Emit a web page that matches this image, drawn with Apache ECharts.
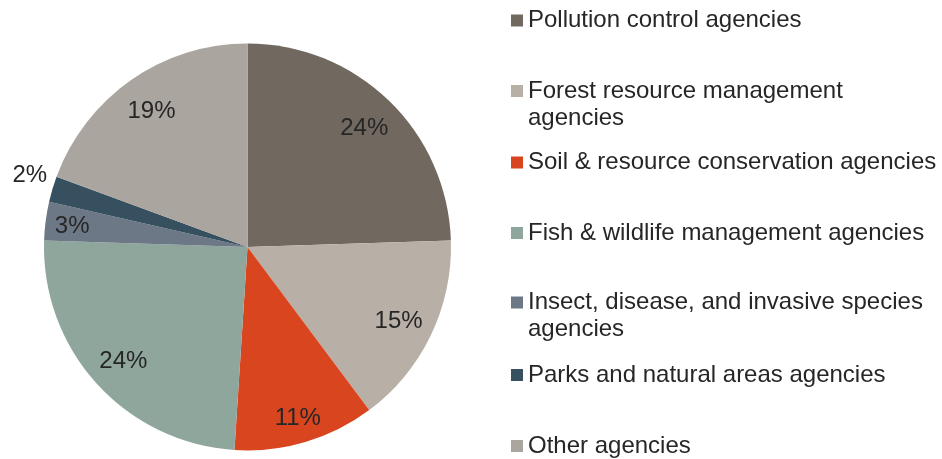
<!DOCTYPE html>
<html>
<head>
<meta charset="utf-8">
<script src="https://cdn.jsdelivr.net/npm/echarts@6/dist/echarts.min.js"></script>
<style>
html,body{margin:0;padding:0;background:#ffffff;}
#chart{width:942px;height:459px;}
</style>
</head>
<body>
<div id="chart"></div>
<script>
// ---- data ----
const categories = [
  'Pollution control agencies',
  'Forest resource management agencies',
  'Soil & resource conservation agencies',
  'Fish & wildlife management agencies',
  'Insect, disease, and invasive species agencies',
  'Parks and natural areas agencies',
  'Other agencies'
];
const legendLines = [
  ['Pollution control agencies'],
  ['Forest resource management', 'agencies'],
  ['Soil & resource conservation agencies'],
  ['Fish & wildlife management agencies'],
  ['Insect, disease, and invasive species', 'agencies'],
  ['Parks and natural areas agencies'],
  ['Other agencies']
];
const percents = [24, 15, 11, 24, 3, 2, 19];

// ---- style ----
const colors = ['#716860', '#b8afa6', '#d9451f', '#8ea69c', '#6d7886', '#36505f', '#aaa59f'];
const FONT = "'Liberation Sans', Arial, Helvetica, sans-serif";
const TEXT = '#262626';
const center = [247.5, 247];
const R = 203.5;
const legendLineCenters = [20.5, 91, 162.5, 233, 302.5, 375, 446];
const LH = 27;
const tierA = [0, 1, 3, 6];   // labels nearer the middle ring
const tierB = [2, 4];         // labels slightly further out
const outsideIdx = 5;

const labelBase = {fontSize: 24, fontFamily: FONT, color: TEXT};

const mainData = categories.map((n, i) => ({
  name: n, value: percents[i],
  itemStyle: {color: colors[i]},
  label: i === outsideIdx
    ? Object.assign({show: true, position: 'outside', distanceToLabelLine: 0, formatter: '{c}%'}, labelBase)
    : {show: false},
  labelLine: {show: false, length: 5.5, length2: 0}
}));

function overlay(tier, r0) {
  return {
    type: 'pie', silent: true, center: center, radius: [r0, R],
    startAngle: 90, clockwise: true, animation: false,
    emphasis: {disabled: true},
    itemStyle: {color: 'rgba(0,0,0,0)', borderWidth: 0},
    labelLine: {show: false},
    labelLayout: {dy: 2},
    data: categories.map((n, i) => ({
      name: n, value: percents[i],
      label: tier.indexOf(i) >= 0
        ? Object.assign({show: true, position: 'inside', formatter: '{c}%'}, labelBase)
        : {show: false}
    }))
  };
}

const legends = categories.map((n, i) => {
  const lines = legendLines[i];
  const extra = (lines.length - 1) * LH;   // pad on top so the icon sits on the first line
  return {
    data: [n], left: 511,
    top: legendLineCenters[i] - LH / 2 - extra,
    orient: 'vertical', padding: 0, itemGap: 0,
    itemWidth: 12, itemHeight: 12, icon: 'rect',
    selectedMode: false,
    formatter: () => lines.map(s => '{t|' + s + '}').join('\n'),
    textStyle: {
      fontSize: 24, fontFamily: FONT, color: TEXT, lineHeight: LH,
      padding: [extra, 0, 0, 0],
      rich: {t: {fontSize: 24, fontFamily: FONT, color: TEXT, lineHeight: LH}}
    }
  };
});

const chart = echarts.init(document.getElementById('chart'), null, {renderer: 'canvas'});
chart.setOption({
  backgroundColor: '#ffffff',
  animation: false,
  legend: legends,
  series: [
    {
      type: 'pie', center: center, radius: [0, R],
      startAngle: 90, clockwise: true, animation: false,
      emphasis: {disabled: true},
      itemStyle: {borderWidth: 0},
      avoidLabelOverlap: false,
      labelLayout: function (p) { return p.dataIndex === outsideIdx ? {dy: -12.5} : {}; },
      data: mainData
    },
    overlay(tierA, 126),
    overlay(tierB, 144)
  ]
});
</script>
</body>
</html>
